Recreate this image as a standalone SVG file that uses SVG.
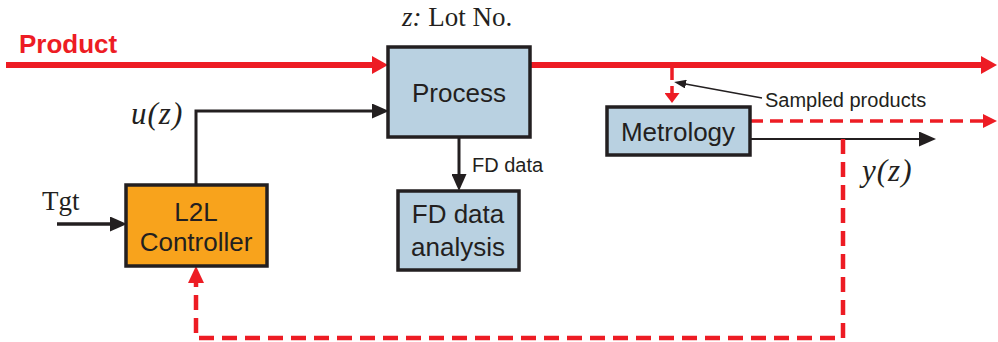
<svg xmlns="http://www.w3.org/2000/svg" width="998" height="342" viewBox="0 0 998 342">
  <style>
    .box { stroke: #231f20; stroke-width: 3.5; }
    .blue { fill: #b9d1e1; }
    .orange { fill: #f8a31c; }
    .lbl { font-family: "Liberation Sans", Arial, sans-serif; font-size: 26px; fill: #231f20; text-anchor: middle; }
    .small { font-family: "Liberation Sans", Arial, sans-serif; font-size: 20px; fill: #231f20; }
    .math { font-family: "Liberation Serif", "Times New Roman", serif; font-size: 27px; fill: #231f20; }
    .var { font-family: "Liberation Serif", "Times New Roman", serif; font-size: 31px; font-style: italic; letter-spacing: 1px; fill: #231f20; }
    .red { stroke: #ed1c24; fill: none; }
    .blk { stroke: #231f20; fill: none; }
  </style>
  <defs>
    <marker id="arrRed" markerUnits="userSpaceOnUse" markerWidth="16" markerHeight="18" refX="8" refY="9" orient="auto">
      <path d="M0,0 L16,9 L0,18 z" fill="#ed1c24"/>
    </marker>
    <marker id="arrRedD" markerUnits="userSpaceOnUse" markerWidth="17" markerHeight="16" refX="8" refY="8" orient="auto">
      <path d="M0,0 L17,8 L0,16 z" fill="#ed1c24"/>
    </marker>
    <marker id="arrRedS" markerUnits="userSpaceOnUse" markerWidth="14" markerHeight="14" refX="7" refY="7" orient="auto">
      <path d="M0,0 L14,7 L0,14 z" fill="#ed1c24"/>
    </marker>
    <marker id="arrRedT" markerUnits="userSpaceOnUse" markerWidth="10" markerHeight="15" refX="5" refY="7.5" orient="auto">
      <path d="M0,0 L10,7.5 L0,15 z" fill="#ed1c24"/>
    </marker>
    <marker id="arrBlk" markerUnits="userSpaceOnUse" markerWidth="17" markerHeight="15" refX="8" refY="7.5" orient="auto">
      <path d="M0,0 L17,7.5 L0,15 z" fill="#231f20"/>
    </marker>
    <marker id="arrBlkSm" markerUnits="userSpaceOnUse" markerWidth="12" markerHeight="9" refX="6" refY="4.5" orient="auto">
      <path d="M0,0 L12,4.5 L0,9 z" fill="#231f20"/>
    </marker>
  </defs>

  <!-- free labels -->
  <text x="19" y="53" font-family="'Liberation Sans', Arial, sans-serif" font-size="26" font-weight="bold" fill="#ed1c24">Product</text>
  <text class="math" x="402" y="26"><tspan font-style="italic">z:</tspan> Lot No.</text>
  <text class="var" x="131" y="124">u(z)</text>
  <text class="math" x="42" y="210">Tgt</text>
  <text class="small" x="472" y="172">FD data</text>
  <text class="small" x="765" y="107">Sampled products</text>
  <text class="var" x="862" y="181">y(z)</text>

  <!-- connectors -->
  <g id="connectors">
    <!-- product flow -->
    <path class="red" stroke-width="6" d="M6,65 H380" marker-end="url(#arrRed)"/>
    <path class="red" stroke-width="6" d="M530,65 H989" marker-end="url(#arrRed)"/>
    <!-- sampling to metrology -->
    <path class="red" stroke-width="3.5" stroke-dasharray="12 6" d="M672,68 V98" marker-end="url(#arrRedT)"/>
    <!-- metrology product out -->
    <path class="red" stroke-width="3.5" stroke-dasharray="13 7" d="M750,121 H990" marker-end="url(#arrRedS)"/>
    <!-- metrology measurement out -->
    <path class="blk" stroke-width="2" d="M750,139 H927" marker-end="url(#arrBlk)"/>
    <!-- feedback to controller -->
    <path class="red" stroke-width="4.5" stroke-dasharray="15 8" d="M843,139 V338 H196 V275" marker-end="url(#arrRedD)"/>
    <!-- control input u(z) -->
    <path class="blk" stroke-width="3" d="M196,185 V111 H380" marker-end="url(#arrBlk)"/>
    <!-- target -->
    <path class="blk" stroke-width="3.5" d="M57,224 H118" marker-end="url(#arrBlk)"/>
    <!-- FD data -->
    <path class="blk" stroke-width="3" d="M459,137 V182" marker-end="url(#arrBlk)"/>
    <!-- sampled products pointer -->
    <path class="blk" stroke-width="1.5" d="M762,98 L680,83" marker-end="url(#arrBlkSm)"/>
  </g>

  <g id="process">
    <rect class="box blue" x="388" y="47" width="142" height="90"/>
    <text class="lbl" x="459" y="102">Process</text>
  </g>
  <g id="controller">
    <rect class="box orange" x="126" y="185" width="141" height="81"/>
    <text class="lbl" x="196" y="221">L2L</text>
    <text class="lbl" x="196" y="251">Controller</text>
  </g>
  <g id="fd-analysis">
    <rect class="box blue" x="398" y="191" width="121" height="79"/>
    <text class="lbl" x="458" y="223">FD data</text>
    <text class="lbl" x="458" y="256">analysis</text>
  </g>
  <g id="metrology">
    <rect class="box blue" x="607" y="107" width="143" height="48"/>
    <text class="lbl" x="678" y="141">Metrology</text>
  </g>
</svg>
